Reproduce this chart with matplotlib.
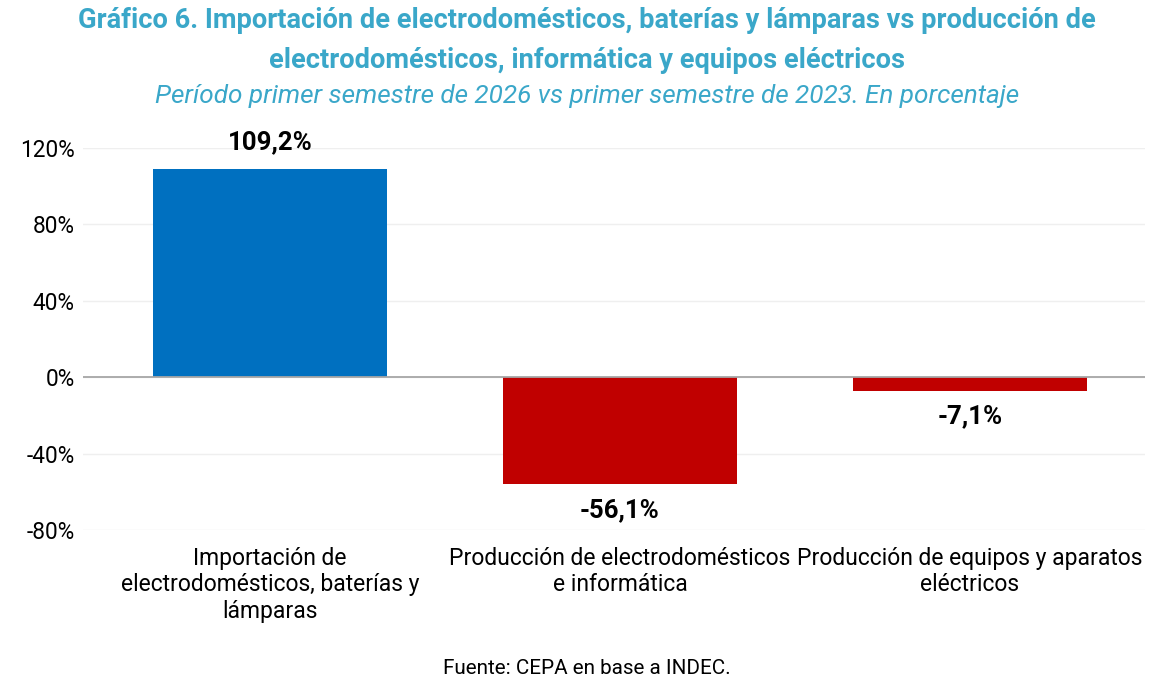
import matplotlib
matplotlib.use("Agg")
import matplotlib.pyplot as plt
from matplotlib.ticker import FuncFormatter

categories = ["Importación de\nelectrodomésticos, baterías y\nlámparas",
              "Producción de electrodomésticos\ne informática",
              "Producción de equipos y aparatos\neléctricos"]
values = [109.2, -56.1, -7.1]
labels = ["109,2%", "-56,1%", "-7,1%"]
colors = ["#0070C0", "#C00000", "#C00000"]
yticks = [-80, -40, 0, 40, 80, 120]

plt.rcParams['font.family'] = ['Roboto', 'DejaVu Sans']

fig = plt.figure(figsize=(11.74, 6.98), dpi=100)
ax = fig.add_axes([0.0707, 0.2407, 0.9046, 0.5473])

x = list(range(len(categories)))
ax.bar(x, values, width=0.669, color=colors, zorder=3)
ax.set_xlim(-0.534, 2.5)
ax.set_ylim(-80, 120)
ax.set_yticks(yticks)
ax.yaxis.set_major_formatter(FuncFormatter(lambda v, p: f"{int(v)}%"))
ax.grid(axis='y', color='#EFEFEF', linewidth=1, zorder=0)
ax.axhline(0, color='#A6A6A6', linewidth=1.3, zorder=4)
for s in ax.spines.values():
    s.set_visible(False)
ax.tick_params(axis='both', length=0)
ax.tick_params(axis='y', pad=6, labelsize=16.3)
ax.set_xticks(x)
ax.set_xticklabels(categories, fontsize=16.5, linespacing=1.2)
ax.tick_params(axis='x', pad=12)

for xi, v, lab in zip(x, values, labels):
    if v >= 0:
        ax.annotate(lab, (xi, v), xytext=(0, 10), textcoords='offset points',
                    ha='center', va='bottom', fontsize=18.5, fontweight='bold', color='black')
    else:
        ax.annotate(lab, (xi, v), xytext=(0, -10), textcoords='offset points',
                    ha='center', va='top', fontsize=18.5, fontweight='bold', color='black')

title_color = "#3AA7C9"
fig.text(0.5, 0.971, "Gráfico 6. Importación de electrodomésticos, baterías y lámparas vs producción de",
         ha='center', va='center', fontsize=19.6, fontweight='bold', color=title_color)
fig.text(0.5, 0.914, "electrodomésticos, informática y equipos eléctricos",
         ha='center', va='center', fontsize=19.6, fontweight='bold', color=title_color)
fig.text(0.5, 0.862, "Período primer semestre de 2026 vs primer semestre de 2023. En porcentaje",
         ha='center', va='center', fontsize=18.8, style='italic', color=title_color)
fig.text(0.5, 0.042, "Fuente: CEPA en base a INDEC.", ha='center', va='center', fontsize=14.9, color='black')

fig.savefig("out.png", dpi=100)
